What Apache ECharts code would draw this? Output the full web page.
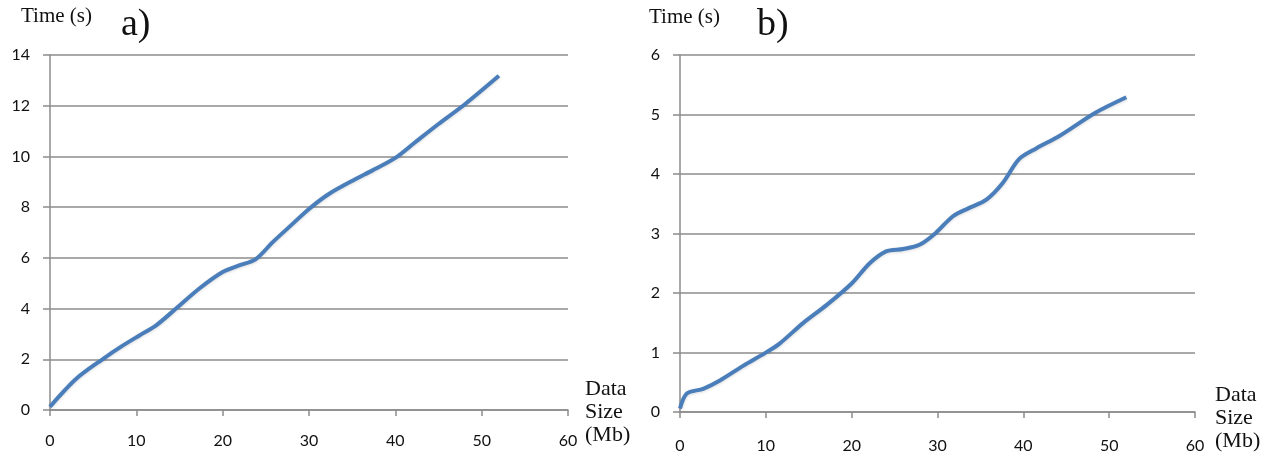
<!DOCTYPE html>
<html>
<head>
<meta charset="utf-8">
<script src="https://cdn.jsdelivr.net/npm/echarts@6/dist/echarts.min.js"></script>
<style>
html,body{margin:0;padding:0;background:#fff;}
#c{width:1277px;height:455px;}
</style>
</head>
<body>
<div id="c"></div>
<script>
// Chart a) data: data size (Mb) vs time (s)
const sizeA = [0, 3.1, 6.2, 8.1, 10.4, 12.3, 14.6, 17.3, 20, 21.9, 23.8, 25.8, 28.1, 30, 32.3, 35.4, 37.3, 40, 42.3, 45, 48.1, 52];
const timeA = [0.13, 1.25, 2.03, 2.47, 2.95, 3.34, 4.0, 4.79, 5.44, 5.7, 5.94, 6.62, 7.34, 7.93, 8.52, 9.11, 9.44, 9.94, 10.56, 11.28, 12.07, 13.18];
// Chart b) data
const sizeB = [0, 0.8, 2.7, 4.65, 7.4, 9.9, 11.6, 14.3, 17.1, 20, 22.1, 24.0, 26.0, 27.9, 29.8, 31.8, 33.7, 35.7, 37.6, 39.5, 41.5, 44.2, 48.4, 52];
const timeB = [0.06, 0.31, 0.39, 0.53, 0.78, 0.99, 1.15, 1.49, 1.80, 2.16, 2.5, 2.70, 2.74, 2.81, 3.01, 3.29, 3.43, 3.57, 3.85, 4.25, 4.43, 4.64, 5.03, 5.29];

const xTicks = {min: 0, max: 60, interval: 10};
const yTicksA = {min: 0, max: 14, interval: 2};
const yTicksB = {min: 0, max: 6, interval: 1};

const axisGray = '#8c8c8c';
const labelFont = {color: '#111', fontFamily: 'Lato, "Open Sans", sans-serif', fontSize: 16};

function xAxis(gi, margin) {
  return {
    type: 'value', gridIndex: gi, min: xTicks.min, max: xTicks.max, interval: xTicks.interval,
    axisLine: {show: true, lineStyle: {color: axisGray, width: 1.5}},
    axisTick: {show: true, length: 6, lineStyle: {color: axisGray, width: 1.5}},
    axisLabel: Object.assign({margin: margin}, labelFont),
    splitLine: {show: false}
  };
}
function yAxis(gi, t) {
  return {
    type: 'value', gridIndex: gi, min: t.min, max: t.max, interval: t.interval,
    axisLine: {show: true, lineStyle: {color: axisGray, width: 1.5}},
    axisTick: {show: true, length: 7, lineStyle: {color: axisGray, width: 1.5}},
    axisLabel: Object.assign({margin: 20}, labelFont),
    splitLine: {show: true, lineStyle: {color: axisGray, width: 1.5}}
  };
}
function pairs(xs, ys) { return xs.map((x, i) => [x, ys[i]]); }

const serif = '"Liberation Serif", "DejaVu Serif", serif';
const chart = echarts.init(document.getElementById('c'), null, {renderer: 'canvas'});
chart.setOption({
  animation: false,
  grid: [
    {left: 50, right: 709, top: 55, bottom: 45},
    {left: 680, right: 82, top: 55, bottom: 43}
  ],
  xAxis: [xAxis(0, 23), xAxis(1, 26)],
  yAxis: [yAxis(0, yTicksA), yAxis(1, yTicksB)],
  series: [
    {type: 'line', xAxisIndex: 0, yAxisIndex: 0, data: pairs(sizeA, timeA), smooth: 0.3, showSymbol: false,
     lineStyle: {color: '#4A7EBB', width: 4, shadowColor: 'rgba(0,0,0,0.15)', shadowBlur: 3, shadowOffsetY: 1}},
    {type: 'line', xAxisIndex: 1, yAxisIndex: 1, data: pairs(sizeB, timeB), smooth: 0.3, showSymbol: false,
     lineStyle: {color: '#4A7EBB', width: 4, shadowColor: 'rgba(0,0,0,0.15)', shadowBlur: 3, shadowOffsetY: 1}}
  ],
  graphic: [
    {type: 'text', left: 21, top: 6, style: {text: 'Time (s)', font: '21px ' + serif, fill: '#111'}},
    {type: 'text', left: 121, top: 6, style: {text: 'a)', font: '38px ' + serif, fill: '#111'}},
    {type: 'text', left: 649, top: 7, style: {text: 'Time (s)', font: '21px ' + serif, fill: '#111'}},
    {type: 'text', left: 757, top: 6, style: {text: 'b)', font: '38px ' + serif, fill: '#111'}},
    {type: 'text', left: 585, top: 378, style: {text: 'Data\nSize\n(Mb)', font: '22px ' + serif, lineHeight: 23, fill: '#111'}},
    {type: 'text', left: 1215, top: 384, style: {text: 'Data\nSize\n(Mb)', font: '22px ' + serif, lineHeight: 23, fill: '#111'}}
  ]
});
</script>
</body>
</html>
